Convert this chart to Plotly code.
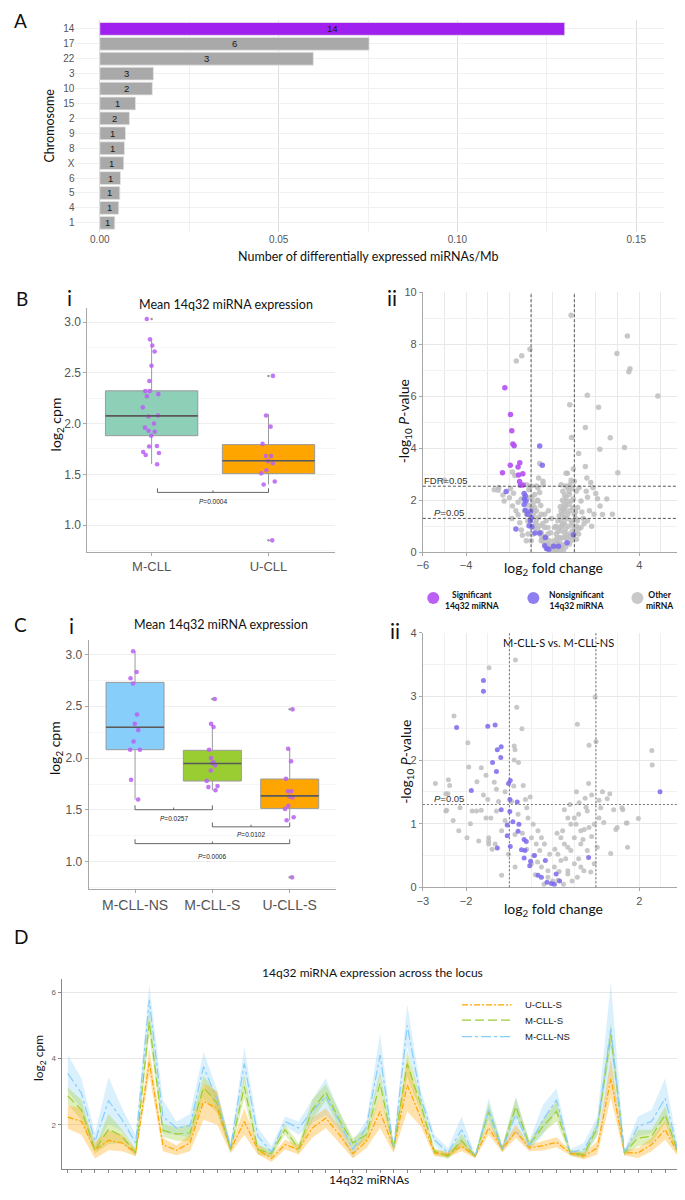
import plotly.graph_objects as go

# The page keeps the browser's default 8px body margin, so the figure is sized to fill the
# remaining 685x1200 window and page positions are converted to figure positions.
PAGE_W, PAGE_H, OFF = 685, 1200, 8
W, H = PAGE_W - OFF, PAGE_H - 2 * OFF
TICK_FONT = 'Liberation Sans'
NARROW = 'Liberation Sans Narrow, Liberation Sans'
TEXT_FONT = 'Lato'

# ---------------- Panel A data ----------------
chromosomes = ['14', '17', '22', '3', '10', '15', '2', '9', '8', 'X', '6', '5', '4', '1']
de_per_mb = [0.130, 0.0753, 0.0597, 0.0150, 0.0147, 0.0100, 0.0083, 0.0072, 0.0069, 0.0067,
             0.0058, 0.0056, 0.0053, 0.0042]
de_count = [14, 6, 3, 3, 2, 1, 2, 1, 1, 1, 1, 1, 1, 1]
highlight_chrom = '14'
a_ticks = [0, 0.05, 0.10, 0.15]
a_ticktext = ['0.00', '0.05', '0.10', '0.15']

# ---------------- Panel B i data ----------------
bi_groups = ['M-CLL', 'U-CLL']
bi_points = [
    [3.03, 2.77, 2.83, 2.71, 2.57, 2.42, 2.32, 2.32, 2.29, 2.27, 2.16, 2.07, 2.08, 2.00, 1.96,
     1.93, 1.92, 1.88, 1.78, 1.775, 1.72, 1.69, 1.71, 1.60],
    [2.47, 2.08, 1.97, 1.80, 1.68, 1.68, 1.63, 1.61, 1.54, 1.51, 1.43, 1.40, 0.85],
]
bi_q1 = [1.881, 1.507]
bi_med = [2.076, 1.634]
bi_q3 = [2.323, 1.793]
bi_lo = [1.601, 1.40]
bi_hi = [2.824, 2.093]
bi_outliers = [[3.03], [2.47, 0.85]]
bi_fill = ['#8ecfb7', '#ffa500']
bi_brackets = [(0.05, 1.0, 1.322, 'P=0.0004', 1.23)]

# ---------------- Panel C i data ----------------
ci_groups = ['M-CLL-NS', 'M-CLL-S', 'U-CLL-S']
ci_points = [
    [3.03, 2.83, 2.77, 2.72, 2.42, 2.33, 2.27, 2.16, 2.08, 2.08, 1.79, 1.60],
    [2.57, 2.33, 2.30, 2.08, 2.00, 1.96, 1.95, 1.93, 1.88, 1.78, 1.72, 1.73, 1.69],
    [2.47, 2.09, 1.97, 1.80, 1.68, 1.68, 1.63, 1.62, 1.54, 1.51, 1.43, 1.40, 0.85],
]
ci_q1 = [2.081, 1.779, 1.515]
ci_med = [2.297, 1.948, 1.636]
ci_q3 = [2.73, 2.075, 1.798]
ci_lo = [1.60, 1.69, 1.40]
ci_hi = [3.03, 2.33, 2.09]
ci_outliers = [[], [2.57], [2.47, 0.85]]
ci_fill = ['#87cefa', '#9acd32', '#ffa500']
ci_brackets = [(0, 1, 1.502, 'P=0.0257', 1.42),
               (1, 2, 1.337, 'P=0.0102', 1.26),
               (0, 2, 1.175, 'P=0.0006', 1.055)]

# ---------------- Panel B ii volcano data ----------------
volcano_classes = ['Significant<br>14q32 miRNA', 'Nonsignificant<br>14q32 miRNA', 'Other<br>miRNA']
bii_sig_fc = [-2.21, -1.95, -1.89, -1.84, -1.78, -1.96, -1.52, -1.60, -2.32, -1.38, -1.58, -1.53, -1.37, -1.49]
bii_sig_p = [6.33, 5.30, 4.68, 4.17, 4.10, 3.35, 3.44, 3.28, 3.06, 3.02, 2.97, 2.72, 2.59, 2.58]
bii_ns_fc = [-0.60, -0.48, -2.15, -1.32, -1.26, -1.31, -1.23, -1.32, -1.26, -1.02, -1.16, -0.99, -1.03,
             -0.96, -1.70, -0.82, -0.59, -1.09, -0.34, -0.37, -0.27, -0.18, 0.04, 0.27, 0.66, 0.96]
bii_ns_p = [4.09, 3.35, 2.34, 2.26, 2.16, 2.05, 1.97, 1.84, 1.61, 1.59, 1.46, 1.33, 1.21,
            0.98, 0.89, 0.74, 0.74, 1.02, 0.57, 0.25, 0.13, 0.11, 0.23, 0.23, 0.36, 0.67]
bii_other = [
    (0.85, 9.12), (-1.05, 7.81), (-1.43, 7.56), (-1.68, 7.36), (3.45, 8.32), (2.97, 7.65), (3.57, 7.06),
    (3.52, 6.95), (4.86, 6.01), (1.60, 6.04), (0.79, 5.68), (2.12, 5.58), (1.51, 4.80), (2.66, 4.41),
    (0.87, 4.42), (3.32, 4.03), (2.18, 3.96), (1.20, 3.80), (1.51, 3.30), (1.58, 2.86), (3.01, 3.06),
    (0.62, 3.04), (0.68, 3.04), (0.85, 2.77), (1.76, 2.68), (1.86, 2.48), (1.99, 2.26), (2.07, 2.06),
    (2.19, 1.78), (1.61, 2.12), (2.76, 1.46), (-0.60, 3.41), (-0.65, 2.86), (-1.86, 3.09), (-1.75, 2.95),
    (-2.49, 2.49), (-2.52, 2.38), (-2.24, 1.97), (-1.81, 2.27), (-1.95, 2.45), (-1.86, 1.78), (-1.60, 1.92),
    (-1.88, 1.30), (-1.60, 1.44), (-1.52, 1.13), (-1.45, 0.85), (-1.40, 0.65), (-1.22, 0.44), (-0.53, 0.44),
    (-0.45, 2.73), (-0.44, 2.60), (-0.68, 2.48), (-0.83, 2.22), (-0.68, 1.97), (-0.83, 1.72), (-0.53, 1.46),
    (-0.76, 1.21), (-0.60, 1.02), (-0.37, 0.95), (-0.53, 0.76), (-0.22, 0.70), (-0.15, 0.44), (-0.07, 0.25),
    (0.08, 0.19), (0.24, 0.32), (0.31, 0.57), (0.39, 0.83), (0.47, 1.08), (0.54, 1.33), (0.57, 1.59),
    (0.51, 1.84), (0.62, 2.10), (0.47, 2.35), (0.70, 2.48), (0.39, 2.60), (0.77, 2.22), (0.85, 1.97),
    (0.92, 1.72), (1.00, 1.46), (1.15, 1.21), (1.31, 0.95), (1.00, 0.95), (0.85, 1.21), (0.70, 1.46),
    (0.39, 1.59), (0.24, 1.21), (0.31, 0.95), (0.16, 0.70), (0.54, 0.57), (0.70, 0.70), (0.85, 0.44),
    (0.77, 0.32), (0.39, 0.19), (0.08, 0.44), (0.08, 0.95), (0.39, 1.21), (-0.91, 0.70), (-1.14, 0.70),
    (-0.99, 0.44), (-0.30, 1.21), (-0.37, 1.46), (-0.22, 0.95), (1.61, 1.21), (1.41, 1.31), (1.91, 1.46),
    (1.00, 2.73), (1.09, 2.35), (1.31, 1.97), (1.15, 1.72), (1.22, 2.48), (-5.0, 2.77),
    (0.2, 0.1), (0.3, 0.4), (0.45, 0.3), (0.6, 0.2), (0.6, 0.9), (0.75, 1.0), (0.9, 0.8), (0.55, 1.1),
    (0.65, 1.3), (0.45, 1.45), (0.3, 1.4), (0.35, 1.75), (0.6, 1.75), (0.75, 1.85), (0.45, 2.0), (0.55, 2.2),
    (0.2, 0.55), (0.1, 0.3), (-0.1, 0.1), (-0.3, 0.3), (-0.4, 0.6), (-0.3, 0.55), (-0.45, 1.1), (-0.65, 1.35),
    (-0.75, 1.6), (-0.55, 1.8), (-0.9, 1.9), (-0.95, 2.1), (-1.1, 2.4), (-1.2, 2.6), (-1.05, 2.1),
    (-1.15, 1.2), (-0.85, 0.95), (-1.3, 1.6), (-1.7, 1.6), (-2.0, 2.1), (-2.3, 2.2), (-2.7, 2.4),
    (-1.45, 2.05), (1.1, 0.5), (1.2, 0.7), (1.45, 1.1), (1.7, 1.6), (1.35, 1.55), (1.05, 1.55), (0.95, 2.05),
    (0.8, 2.6), (0.95, 3.2), (1.55, 2.35), (2.5, 2.05), (2.3, 1.45), (1.8, 1.0), (0.15, 1.0), (-0.1, 0.75),
    (-0.2, 1.6), (-0.05, 1.3),
    (-0.9, 1.4), (-0.8, 1.1), (-0.7, 0.9), (-0.6, 0.7), (-0.5, 0.55), (-0.4, 0.4), (-0.3, 0.15), (-0.2, 0.3),
    (0.0, 0.05), (0.05, 0.15), (0.15, 0.05), (0.25, 0.15), (0.35, 0.1), (0.5, 0.05), (0.45, 0.55),
    (0.55, 0.75), (0.65, 0.55), (0.8, 0.6), (0.95, 0.6), (1.05, 0.75), (1.1, 1.0), (1.2, 0.9), (0.9, 1.1),
    (1.05, 1.3), (0.8, 1.6), (0.65, 1.95), (0.75, 2.35), (0.9, 2.45), (0.6, 2.55), (0.5, 1.65), (0.4, 1.0),
    (0.25, 0.8), (-0.85, 1.55), (-0.95, 1.7), (-0.7, 2.0), (-0.6, 2.3), (-0.75, 2.55), (-1.0, 2.55),
    (-1.1, 1.8), (-1.2, 1.45),
]
bii_fdr_line = 2.54
p05_line = 1.301

# ---------------- Panel C ii volcano data ----------------
cii_ns = [
    (-1.60, 3.25), (-1.60, 3.08), (-2.22, 2.51), (-1.50, 2.53), (-1.33, 2.55), (-1.19, 2.21), (-1.28, 2.16),
    (-1.20, 2.04), (-1.39, 1.96), (-1.30, 1.82), (-1.88, 1.52), (-0.98, 1.68), (-1.02, 1.63), (-0.99, 1.38),
    (-0.82, 1.34), (-1.19, 1.22), (-0.99, 1.19), (-0.92, 1.03), (-1.05, 0.98), (-0.78, 0.99), (-0.80, 0.88),
    (-1.05, 0.81), (-1.28, 0.62), (-0.98, 0.64), (2.48, 1.50), (-0.66, 0.75), (-0.61, 0.72), (-0.72, 0.59),
    (-0.64, 0.58), (-0.42, 0.50), (-0.17, 0.42), (-0.66, 0.46), (-0.51, 0.41), (0.83, 0.47), (-0.53, 0.34),
    (-0.34, 0.19), (-0.26, 0.16), (-0.13, 0.08), (-0.03, 0.06), (0.04, 0.05), (0.08, 0.21), (0.16, 0.10),
]
cii_other = [
    (-0.86, 3.57), (-1.47, 3.45), (-2.28, 2.69), (-0.83, 2.83), (-0.71, 2.49), (0.98, 2.99), (0.57, 2.56),
    (0.84, 2.23), (1.00, 2.29), (2.29, 2.15), (2.30, 1.92), (0.83, 1.63), (-1.96, 2.27), (-1.94, 1.89),
    (-1.65, 1.88), (-1.54, 1.76), (-1.75, 1.66), (-1.35, 1.65), (-2.71, 1.63), (-2.41, 1.69), (-2.38, 1.60),
    (-2.47, 1.47), (-2.42, 1.47), (-2.45, 1.21), (-2.14, 1.25), (-1.86, 1.20), (-1.50, 1.38), (-1.30, 1.54),
    (-1.10, 1.50), (-0.90, 1.59), (-0.68, 1.60), (-0.63, 1.38), (-0.52, 1.42), (-0.89, 2.22), (-0.87, 2.16),
    (-0.89, 2.00), (-0.79, 1.96), (-1.76, 1.20), (-1.65, 1.21), (-1.54, 1.09), (-1.43, 1.09), (-1.30, 1.20),
    (-1.98, 0.78), (0.61, 1.33), (0.77, 1.26), (1.07, 1.37), (1.26, 1.39), (1.32, 1.47), (1.60, 1.25),
    (1.62, 1.22), (1.98, 1.08), (1.70, 1.01), (1.49, 0.94), (1.46, 0.91), (1.34, 0.53), (1.73, 0.63),
    (1.18, 1.02), (1.07, 1.09), (0.96, 0.99), (0.84, 0.94), (0.73, 0.91), (0.54, 0.99), (0.27, 1.22),
    (0.35, 1.09), (0.42, 0.99), (0.23, 0.89), (0.50, 0.78), (0.65, 0.68), (0.80, 0.58), (0.42, 0.58),
    (0.27, 0.68), (0.12, 0.52), (0.19, 0.42), (0.50, 0.37), (0.04, 0.32), (0.35, 0.26), (-0.26, 0.32),
    (-0.11, 0.26), (-0.57, 1.09), (-0.45, 0.99), (-0.34, 0.89), (-0.26, 0.78), (-0.19, 0.68), (-0.49, 0.78),
    (-0.38, 0.68), (-0.30, 0.58), (-0.07, 0.52), (-0.87, 0.83), (-1.18, 0.89), (-1.48, 0.78), (-1.33, 0.68),
    (-1.02, 0.52), (-1.48, 0.68), (-1.18, 0.19), (0.57, 0.16), (0.72, 0.26), (0.35, 0.63), (0.19, 0.78),
    (-0.87, 0.32), (-1.48, 0.73), (-1.40, 0.60), (-0.49, 0.37), (-0.11, 0.16), (0.12, 0.11), (0.35, 0.21),
    (0.96, 0.37), (0.88, 0.24), (0.65, 0.32), (1.03, 0.63), (0.65, 0.89), (0.50, 1.09), (0.80, 1.20),
    (1.11, 1.25), (1.41, 1.22), (1.72, 1.01), (-1.71, 0.73), (-2.17, 0.89), (-2.47, 1.20),
    (-0.4, 0.2), (-0.2, 0.05), (0.0, 0.1), (0.25, 0.05), (0.45, 0.1), (0.6, 0.45), (0.7, 0.75), (0.9, 0.8),
    (0.3, 0.45), (0.15, 0.25), (-0.6, 0.6), (-0.7, 0.85), (-0.8, 1.15), (-0.6, 1.25), (-1.1, 1.05),
    (-1.25, 1.35), (-0.95, 1.35), (-1.6, 1.45), (-1.9, 1.0), (-2.3, 1.05), (0.4, 1.3), (0.55, 1.5),
    (0.9, 1.45), (1.15, 1.5), (0.75, 1.4), (-0.45, 0.5), (-0.35, 0.4), (0.05, 0.6), (0.1, 0.85), (0.6, 1.15),
]

# ---------------- Panel D data ----------------
mirna_index = list(range(46))
d_series = ['U-CLL-S', 'M-CLL-S', 'M-CLL-NS']
d_mean = {
    'M-CLL-NS': [3.55, 2.95, 1.5, 2.73, 2.15, 1.45, 5.76, 2.25, 1.9, 1.97, 3.75, 2.75, 1.35, 3.85, 1.65, 1.18,
                 2.1, 1.9, 2.4, 2.85, 2.1, 1.25, 1.95, 4.1, 1.3, 4.99, 2.8, 1.55, 1.15, 1.85, 1.05, 2.45, 1.27,
                 2.3, 1.37, 2.15, 2.75, 1.17, 1.25, 1.95, 4.9, 1.15, 1.95, 2.1, 2.8, 1.1],
    'M-CLL-S': [2.87, 2.45, 1.23, 1.87, 1.65, 1.15, 5.1, 1.83, 1.72, 1.75, 3.12, 2.65, 1.25, 3.15, 1.25, 1.13,
                1.85, 1.28, 2.45, 2.98, 2.15, 1.45, 1.7, 3.25, 1.3, 3.84, 2.6, 1.2, 1.05, 1.53, 1.05, 2.4, 1.27,
                2.55, 1.4, 1.95, 2.4, 1.15, 1.1, 1.9, 4.71, 1.15, 1.6, 1.65, 2.3, 1.1],
    'U-CLL-S': [2.23, 2.1, 1.23, 1.53, 1.45, 1.15, 3.9, 1.4, 1.23, 1.45, 2.7, 2.5, 1.25, 2.1, 1.25, 0.98,
                1.4, 1.25, 1.9, 2.2, 1.7, 1.13, 1.5, 2.4, 1.3, 3.2, 2.2, 1.15, 1.1, 1.35, 1.05, 1.9, 1.27,
                1.8, 1.3, 1.37, 1.47, 1.15, 1.05, 1.3, 3.4, 1.15, 1.15, 1.4, 1.85, 1.1],
}
d_se = {
    'M-CLL-NS': [0.55, 0.45, 0.25, 0.7, 0.35, 0.25, 0.5, 0.5, 0.2, 0.35, 0.45, 0.3, 0.1, 0.5, 0.25, 0.18,
                 0.15, 0.2, 0.35, 0.55, 0.3, 0.25, 0.2, 0.65, 0.1, 0.65, 0.25, 0.15, 0.15, 0.4, 0.05, 0.35,
                 0.1, 0.55, 0.15, 0.45, 0.35, 0.1, 0.2, 0.3, 1.4, 0.1, 0.3, 0.35, 0.6, 0.1],
    'M-CLL-S': [0.25, 0.3, 0.1, 0.45, 0.2, 0.1, 0.4, 0.2, 0.2, 0.25, 0.35, 0.3, 0.1, 0.35, 0.15, 0.1,
                0.15, 0.15, 0.3, 0.25, 0.25, 0.15, 0.2, 0.35, 0.1, 0.4, 0.2, 0.1, 0.08, 0.2, 0.05, 0.25,
                0.1, 0.25, 0.1, 0.2, 0.3, 0.08, 0.1, 0.2, 0.35, 0.08, 0.25, 0.2, 0.25, 0.08],
    'U-CLL-S': [0.35, 0.4, 0.25, 0.3, 0.25, 0.1, 0.4, 0.2, 0.15, 0.25, 0.55, 0.5, 0.1, 0.4, 0.15, 0.1,
                0.15, 0.15, 0.3, 0.3, 0.25, 0.15, 0.2, 0.5, 0.15, 0.8, 0.25, 0.1, 0.08, 0.15, 0.05, 0.2,
                0.1, 0.2, 0.1, 0.15, 0.15, 0.08, 0.1, 0.2, 0.6, 0.08, 0.15, 0.2, 0.3, 0.08],
}
d_line = {'U-CLL-S': '#ffa500', 'M-CLL-S': '#9acd32', 'M-CLL-NS': '#87cefa'}
d_fill = {'U-CLL-S': 'rgba(255,165,0,0.33)', 'M-CLL-S': 'rgba(154,205,50,0.33)',
          'M-CLL-NS': 'rgba(135,206,250,0.30)'}
d_dash = {'U-CLL-S': '6px,2px,2px,2px', 'M-CLL-S': '9px,4px', 'M-CLL-NS': '10px,3px,3px,3px'}


# ---------------- helpers (page pixel -> paper fraction) ----------------
def fx(p):
    return (p - OFF) / W


def fy(p):
    return 1 - (p - OFF) / H


fig = go.Figure()
shapes = []
annotations = []

# ---------------- Panel A ----------------
row_order = chromosomes[::-1]          # bottom-to-top category order
fig.add_trace(go.Bar(
    y=chromosomes, x=de_per_mb, orientation='h', width=0.86,
    marker=dict(color=['#a020f0' if c == highlight_chrom else '#a9a9a9' for c in chromosomes],
                line=dict(color='#e4e4e4', width=0.8)),
    xaxis='x', yaxis='y', showlegend=False, hoverinfo='skip'))
for c, v, n in zip(chromosomes, de_per_mb, de_count):
    annotations.append(dict(text=str(n), x=v / 2, y=row_order.index(c), xref='x', yref='y', showarrow=False,
                            font=dict(family=NARROW, size=9.5, color='#1a1a1a')))


# ---------------- Box panels ----------------
def add_boxes(groups, points, q1, med, q3, lo, hi, outs, fills, bw, xa, ya):
    for i, g in enumerate(groups):
        fig.add_trace(go.Box(
            x=[i], q1=[q1[i]], median=[med[i]], q3=[q3[i]], lowerfence=[lo[i]], upperfence=[hi[i]],
            width=bw, fillcolor=fills[i], line=dict(color='#9a9a9a', width=1), whiskerwidth=0,
            boxpoints=False, xaxis=xa, yaxis=ya, showlegend=False, hoverinfo='skip'))
        fig.add_trace(go.Scatter(
            x=[i - bw / 2, i + bw / 2], y=[med[i], med[i]], mode='lines',
            line=dict(color='#5a5a5a', width=1.6), xaxis=xa, yaxis=ya, showlegend=False, hoverinfo='skip'))
        if outs[i]:
            fig.add_trace(go.Scatter(
                x=[i] * len(outs[i]), y=outs[i], mode='markers',
                marker=dict(color='#9a9a9a', size=2.5), xaxis=xa, yaxis=ya, showlegend=False, hoverinfo='skip'))
        fig.add_trace(go.Box(
            x=[i] * len(points[i]), y=points[i], boxpoints='all', jitter=0.23, pointpos=0, width=bw,
            fillcolor='rgba(0,0,0,0)', line=dict(color='rgba(0,0,0,0)', width=0),
            marker=dict(color='rgba(185,95,245,0.85)', size=4.6),
            xaxis=xa, yaxis=ya, showlegend=False, hoverinfo='skip'))


add_boxes(bi_groups, bi_points, bi_q1, bi_med, bi_q3, bi_lo, bi_hi, bi_outliers, bi_fill, 0.79, 'x2', 'y2')
add_boxes(ci_groups, ci_points, ci_q1, ci_med, ci_q3, ci_lo, ci_hi, ci_outliers, ci_fill, 0.75, 'x4', 'y4')


def add_brackets(brackets, xr, yr, hgt):
    for x0, x1, yl, label, ylab in brackets:
        xm = (x0 + x1) / 2
        shapes.append(dict(type='path', xref=xr, yref=yr,
                           path=f'M {x0},{yl + hgt} L {x0},{yl} L {x1},{yl} L {x1},{yl + hgt}',
                           line=dict(color='#555', width=0.9)))
        shapes.append(dict(type='line', xref=xr, yref=yr, x0=xm, x1=xm, y0=yl, y1=yl + hgt * 0.5,
                           line=dict(color='#555', width=0.9)))
        annotations.append(dict(text='<i>P</i>' + label[1:], x=xm, y=ylab, xref=xr, yref=yr, showarrow=False,
                                font=dict(family=TICK_FONT, size=6.5, color='#222')))


add_brackets(bi_brackets, 'x2', 'y2', 0.04)
add_brackets(ci_brackets, 'x4', 'y4', 0.042)

# ---------------- Volcano panels ----------------
C_SIG = 'rgba(178,80,242,0.9)'
C_NS = 'rgba(122,104,238,0.85)'
C_OTH = 'rgba(190,190,190,0.85)'
class_colors = [C_SIG, C_NS, C_OTH]

fig.add_trace(go.Scatter(x=[p[0] for p in bii_other], y=[p[1] for p in bii_other], mode='markers',
                         marker=dict(color=C_OTH, size=5.5), showlegend=False,
                         xaxis='x3', yaxis='y3', hoverinfo='skip'))
fig.add_trace(go.Scatter(x=bii_ns_fc, y=bii_ns_p, mode='markers', marker=dict(color=C_NS, size=5.5),
                         showlegend=False, xaxis='x3', yaxis='y3', hoverinfo='skip'))
fig.add_trace(go.Scatter(x=bii_sig_fc, y=bii_sig_p, mode='markers', marker=dict(color=C_SIG, size=5.5),
                         showlegend=False, xaxis='x3', yaxis='y3', hoverinfo='skip'))

fig.add_trace(go.Scatter(x=[p[0] for p in cii_other], y=[p[1] for p in cii_other], mode='markers',
                         marker=dict(color=C_OTH, size=5), showlegend=False,
                         xaxis='x5', yaxis='y5', hoverinfo='skip'))
fig.add_trace(go.Scatter(x=[p[0] for p in cii_ns], y=[p[1] for p in cii_ns], mode='markers',
                         marker=dict(color=C_NS, size=5), showlegend=False,
                         xaxis='x5', yaxis='y5', hoverinfo='skip'))

for xv in (-1, 1):
    shapes.append(dict(type='line', xref='x3', yref='y3 domain', x0=xv, x1=xv, y0=0, y1=1,
                       line=dict(color='#444', width=0.9, dash='3px,2px')))
    shapes.append(dict(type='line', xref='x5', yref='y5 domain', x0=xv, x1=xv, y0=0, y1=1,
                       line=dict(color='#777', width=1.1, dash='2px,2px')))
for yv in (bii_fdr_line, p05_line):
    shapes.append(dict(type='line', xref='x3 domain', yref='y3', x0=0, x1=1, y0=yv, y1=yv,
                       line=dict(color='#444', width=0.9, dash='3px,2px')))
shapes.append(dict(type='line', xref='x5 domain', yref='y5', x0=0, x1=1, y0=p05_line, y1=p05_line,
                   line=dict(color='#777', width=1.1, dash='2px,2px')))

annotations += [
    dict(text='FDR=0.05', x=-4.95, y=bii_fdr_line, yshift=6, xref='x3', yref='y3', showarrow=False,
         font=dict(family=TICK_FONT, size=9.5, color='#333')),
    dict(text='<i>P</i>=0.05', x=-4.8, y=p05_line, yshift=6, xref='x3', yref='y3', showarrow=False,
         font=dict(family=TICK_FONT, size=9.5, color='#333')),
    dict(text='<i>P</i>=0.05', x=-2.4, y=p05_line, yshift=6, xref='x5', yref='y5', showarrow=False,
         font=dict(family=TICK_FONT, size=9.5, color='#333')),
]

# volcano key drawn between panels B and C
for k, (lab, col) in enumerate(zip(volcano_classes, class_colors)):
    cx = [431, 532, 637][k]
    tx = [470, 576, 659][k]
    shapes.append(dict(type='circle', xref='paper', yref='paper', xsizemode='pixel', ysizemode='pixel',
                       xanchor=fx(cx), yanchor=fy(598), x0=-6, x1=6, y0=-6, y1=6,
                       fillcolor=col, line=dict(width=0)))
    annotations.append(dict(text='<b>' + lab + '</b>', x=fx(tx), y=fy(601), xref='paper', yref='paper',
                            showarrow=False, align='center', xanchor='center', yanchor='middle',
                            font=dict(family=TEXT_FONT, size=8.5, color='#111')))

# ---------------- Panel D ----------------
for s in ['M-CLL-NS', 'M-CLL-S', 'U-CLL-S']:
    lower = [m - e for m, e in zip(d_mean[s], d_se[s])]
    upper = [m + e for m, e in zip(d_mean[s], d_se[s])]
    fig.add_trace(go.Scatter(x=mirna_index, y=lower, mode='lines', line=dict(width=0),
                             showlegend=False, xaxis='x6', yaxis='y6', hoverinfo='skip'))
    fig.add_trace(go.Scatter(x=mirna_index, y=upper, mode='lines', line=dict(width=0), fill='tonexty',
                             fillcolor=d_fill[s], showlegend=False, xaxis='x6', yaxis='y6', hoverinfo='skip'))
for s in d_series:
    fig.add_trace(go.Scatter(x=mirna_index, y=d_mean[s], mode='lines', name=s,
                             line=dict(color=d_line[s], width=1.2, dash=d_dash[s]),
                             showlegend=False, xaxis='x6', yaxis='y6', hoverinfo='skip'))

# D key
for k, s in enumerate(d_series):
    ly = [1009, 1024.5, 1041][k]
    shapes.append(dict(type='line', xref='paper', yref='paper', x0=fx(460), x1=fx(510), y0=fy(ly), y1=fy(ly),
                       line=dict(color=d_line[s], width=1.2, dash=d_dash[s])))
    annotations.append(dict(text=s, x=fx(522), y=fy(ly), xref='paper', yref='paper', showarrow=False,
                            xanchor='left', yanchor='middle',
                            font=dict(family=NARROW, size=9.5, color='#222')))


# ---------------- text annotations ----------------
def note(text, px, py, size, color='#111', font=TEXT_FONT, angle=0):
    return dict(text=text, x=fx(px), y=fy(py), xref='paper', yref='paper', showarrow=False,
                font=dict(family=font, size=size, color=color), textangle=angle,
                xanchor='center', yanchor='middle')


annotations += [
    note('A', 15, 15, 19),
    note('Chromosome', 44, 121, 12.5, angle=-90),
    note('Number of differentially expressed miRNAs/Mb', 366, 253, 12.5),
    note('B', 16, 295, 19),
    note('i', 64, 294, 21),
    note('Mean 14q32 miRNA expression', 222, 301, 12.5),
    note('log<sub>2</sub> cpm', 51, 423, 14, angle=-90),
    note('ii', 389, 294, 21),
    note('-log<sub>10</sub> <i>P</i>-value', 402, 420, 14, angle=-90),
    note('log<sub>2</sub> fold change', 552, 568, 14),
    note('C', 15, 625, 19),
    note('i', 66, 626, 21),
    note('Mean 14q32 miRNA expression', 217, 625, 12.5),
    note('log<sub>2</sub> cpm', 50, 750, 14, angle=-90),
    note('ii', 392, 631, 21),
    note('M-CLL-S vs. M-CLL-NS', 557, 643, 11),
    note('-log<sub>10</sub> <i>P</i>-value', 404, 763, 14, angle=-90),
    note('log<sub>2</sub> fold change', 552, 913, 14),
    note('D', 15, 940, 19),
    note('14q32 miRNA expression across the locus', 370, 976, 12),
    note('log<sub>2</sub> cpm', 34, 1063, 12, angle=-90),
    note('14q32 miRNAs', 366, 1185, 12),
]

# ---------------- axes ----------------
GRID = '#e8e8e8'
AX = '#a8a8a8'
TF = dict(family=TICK_FONT, size=12, color='#555')
VF = dict(family=TICK_FONT, size=11, color='#555')

layout_axes = dict(
    xaxis=dict(domain=[fx(70), fx(664)], anchor='y', range=[-0.0068, 0.1578], tickvals=a_ticks,
               ticktext=a_ticktext, showgrid=True, gridcolor='#dedede', zeroline=False, showline=False,
               minor=dict(tick0=0.025, dtick=0.05, showgrid=True, gridcolor='#f0f0f0'),
               tickfont=dict(family=NARROW, size=10, color='#555')),
    yaxis=dict(domain=[fy(228), fy(14)], anchor='x', type='category', categoryorder='array',
               categoryarray=row_order, range=[-0.6, 13.6], showgrid=True, gridcolor='#f0f0f0',
               zeroline=False, tickfont=dict(family=NARROW, size=10, color='#555')),
    xaxis2=dict(domain=[fx(82), fx(332)], anchor='y2', range=[-0.55, 1.57], tickvals=[0, 1],
                ticktext=bi_groups, showgrid=False, zeroline=False, showline=True, linecolor=AX,
                ticks='outside', ticklen=3, tickcolor=AX, tickfont=dict(family=TICK_FONT, size=13, color='#555')),
    yaxis2=dict(domain=[fy(551.2), fy(304.9)], anchor='x2', range=[0.738, 3.14],
                tickvals=[1, 1.5, 2, 2.5, 3], ticktext=['1.0', '1.5', '2.0', '2.5', '3.0'],
                showgrid=True, gridcolor='#eeeeee', zeroline=False, showline=True, linecolor=AX,
                minor=dict(tick0=0.75, dtick=0.5, showgrid=True, gridcolor='#f6f6f6'),
                ticks='outside', ticklen=3, tickcolor=AX, tickfont=TF),
    xaxis3=dict(domain=[fx(420.5), fx(682.5)], anchor='y3', range=[-6, 6], tickvals=[-6, -4, 4, 6],
                showgrid=True, gridcolor=GRID, zeroline=False, showline=True, linecolor=AX,
                minor=dict(tick0=0, dtick=1, showgrid=True, gridcolor=GRID),
                ticks='outside', ticklen=3, tickcolor=AX, tickfont=VF),
    yaxis3=dict(domain=[fy(551.7), fy(289.3)], anchor='x3', range=[0, 10], tickvals=list(range(0, 11, 2)),
                showgrid=True, gridcolor=GRID, zeroline=False, showline=True, linecolor=AX,
                minor=dict(dtick=1, showgrid=True, gridcolor='#f2f2f2'),
                ticks='outside', ticklen=3, tickcolor=AX, tickfont=VF),
    xaxis4=dict(domain=[fx(83.3), fx(333)], anchor='y4', range=[-0.6, 2.6], tickvals=[0, 1, 2],
                ticktext=ci_groups, showgrid=False, zeroline=False, showline=True, linecolor=AX,
                ticks='outside', ticklen=3, tickcolor=AX, tickfont=dict(family=NARROW, size=14, color='#555')),
    yaxis4=dict(domain=[fy(891.9), fy(640.3)], anchor='x4', range=[0.738, 3.14],
                tickvals=[1, 1.5, 2, 2.5, 3], ticktext=['1.0', '1.5', '2.0', '2.5', '3.0'],
                showgrid=True, gridcolor='#eeeeee', zeroline=False, showline=True, linecolor=AX,
                minor=dict(tick0=0.75, dtick=0.5, showgrid=True, gridcolor='#f6f6f6'),
                ticks='outside', ticklen=3, tickcolor=AX, tickfont=TF),
    xaxis5=dict(domain=[fx(420.5), fx(682.5)], anchor='y5', range=[-3, 3], tickvals=[-3, -2, 2, 3],
                showgrid=True, gridcolor=GRID, zeroline=False, showline=True, linecolor=AX,
                minor=dict(tick0=0, dtick=0.5, showgrid=True, gridcolor='#f0f0f0'),
                ticks='outside', ticklen=3, tickcolor=AX, tickfont=VF),
    yaxis5=dict(domain=[fy(890.3), fy(633)], anchor='x5', range=[0, 4], tickvals=[0, 1, 2, 3, 4],
                showgrid=True, gridcolor=GRID, zeroline=False, showline=True, linecolor=AX,
                minor=dict(dtick=0.5, showgrid=True, gridcolor='#f2f2f2'),
                ticks='outside', ticklen=3, tickcolor=AX, tickfont=VF),
    xaxis6=dict(domain=[fx(56), 1], anchor='y6', range=[-0.46, 45.46], tickvals=mirna_index,
                showticklabels=False, showgrid=False, zeroline=False, showline=True, linecolor='#888',
                ticks='outside', ticklen=3, tickcolor='#888'),
    yaxis6=dict(domain=[fy(1175), fy(982.7)], anchor='x6', range=[0.66, 6.4], tickvals=[2, 4, 6],
                showgrid=True, gridcolor=GRID, zeroline=False, showline=True, linecolor='#888',
                ticks='outside', ticklen=3, tickcolor='#888',
                tickfont=dict(family=NARROW, size=8, color='#666')),
)

fig.update_layout(
    width=W, height=H, margin=dict(l=0, r=0, t=0, b=0),
    paper_bgcolor='white', plot_bgcolor='white', showlegend=False,
    shapes=shapes, annotations=annotations,
    **layout_axes,
)

fig.write_html('out.html', config={'displayModeBar': False})
